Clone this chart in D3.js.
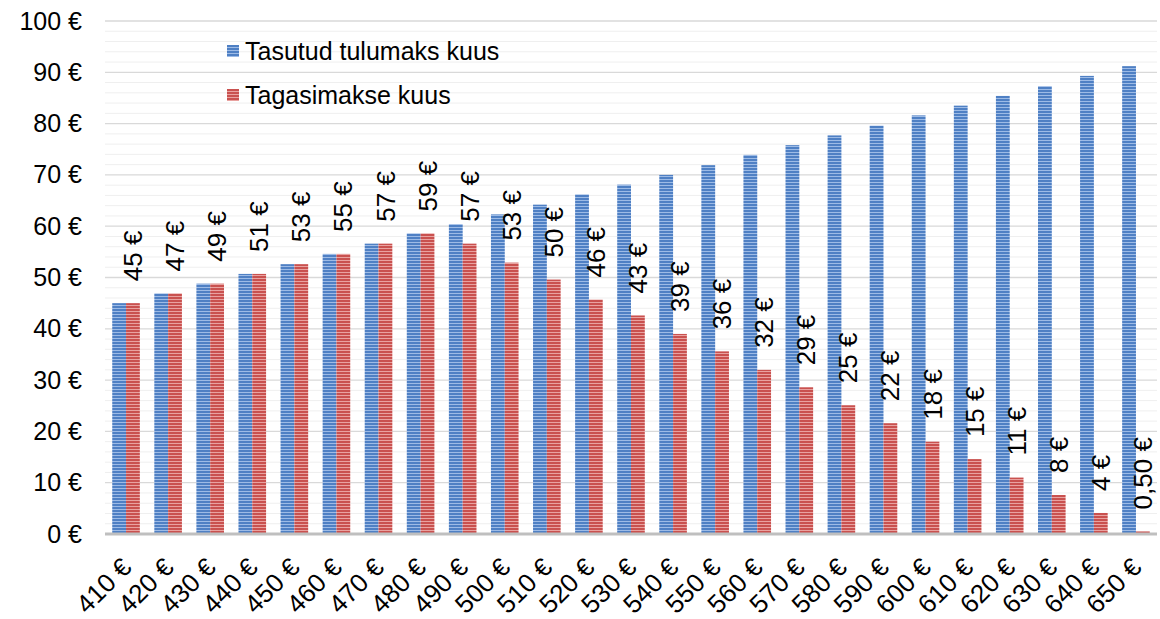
<!DOCTYPE html>
<html>
<head>
<meta charset="utf-8">
<script src="https://cdn.jsdelivr.net/npm/d3@7"></script>
<style>
  body { margin: 0; background: #fff; }
  text { font-family: Arial, "Liberation Sans", sans-serif; fill: #000; }
</style>
</head>
<body>
<div id="chart"></div>
<script>
// incomes (categories)
var incomes = [410, 420, 430, 440, 450, 460, 470, 480, 490, 500, 510, 520, 530,
               540, 550, 560, 570, 580, 590, 600, 610, 620, 630, 640, 650];

var tulumaks = [45.0, 46.9, 48.8, 50.7, 52.6, 54.6, 56.6, 58.6, 60.4, 62.3, 64.2, 66.2, 68.1,
                70.0, 71.9, 73.9, 75.8, 77.7, 79.6, 81.6, 83.5, 85.4, 87.3, 89.3, 91.2];

var tagasimakse = [45.0, 46.9, 48.8, 50.7, 52.6, 54.6, 56.6, 58.6, 56.6, 52.9, 49.6, 45.7, 42.6,
                   39.0, 35.6, 32.0, 28.6, 25.1, 21.6, 18.0, 14.6, 11.0, 7.6, 4.1, 0.5];

var seriesNames = ["Tasutud tulumaks kuus", "Tagasimakse kuus"];
var yTicks = [0, 10, 20, 30, 40, 50, 60, 70, 80, 90, 100];

var width = 1160, height = 619;
var plotLeft = 105, plotRight = 1157, plotTop = 21, plotBottom = 534;

var svg = d3.select("#chart").append("svg")
  .attr("width", width)
  .attr("height", height);

svg.append("rect").attr("width", width).attr("height", height).attr("fill", "#fff");

// striped fills
var defs = svg.append("defs");
function stripes(id, base, light) {
  var p = defs.append("pattern")
    .attr("id", id)
    .attr("patternUnits", "userSpaceOnUse")
    .attr("width", 6).attr("height", 3);
  p.append("rect").attr("width", 6).attr("height", 3).attr("fill", base);
  p.append("rect").attr("y", 2).attr("width", 6).attr("height", 1).attr("fill", light);
}
stripes("blueStripe", "#4f80c4", "#9dbbe6");
stripes("redStripe", "#c9514f", "#e9a2a0");

var x = d3.scaleBand()
  .domain(incomes)
  .range([plotLeft, plotRight])
  .paddingInner(0.344)
  .paddingOuter(0.172);

var x1 = d3.scaleBand()
  .domain([0, 1])
  .range([0, x.bandwidth()]);

var y = d3.scaleLinear().domain([0, 100]).range([plotBottom, plotTop]);

// gridlines
var minor = d3.range(0, 101, 2).filter(function(v) { return v % 10 !== 0; });
svg.append("g").selectAll("line").data(minor).enter().append("line")
  .attr("x1", plotLeft).attr("x2", plotRight)
  .attr("y1", function(d) { return y(d); }).attr("y2", function(d) { return y(d); })
  .attr("stroke", "#efefef").attr("stroke-width", 1);

svg.append("g").selectAll("line").data(yTicks.slice(1)).enter().append("line")
  .attr("x1", plotLeft).attr("x2", plotRight)
  .attr("y1", function(d) { return y(d); }).attr("y2", function(d) { return y(d); })
  .attr("stroke", "#d9d9d9").attr("stroke-width", 1.3);

// y axis labels
var yAxis = d3.axisLeft(y).tickValues(yTicks).tickSize(0).tickPadding(0)
  .tickFormat(function(d) { return d + " €"; });
var gy = svg.append("g").attr("transform", "translate(82,0)").call(yAxis);
gy.select(".domain").remove();
gy.selectAll("text").attr("font-size", 25).attr("fill", "#000")
  .style("font-family", "Arial, 'Liberation Sans', sans-serif");

// bars
var rows = incomes.map(function(inc, i) {
  return { inc: inc, values: [tulumaks[i], tagasimakse[i]] };
});

var groups = svg.append("g").selectAll("g").data(rows).enter().append("g")
  .attr("transform", function(d) { return "translate(" + x(d.inc) + ",0)"; });

groups.selectAll("rect").data(function(d) { return d.values; }).enter().append("rect")
  .attr("x", function(d, i) { return x1(i); })
  .attr("width", x1.bandwidth())
  .attr("y", function(d) { return y(d); })
  .attr("height", function(d) { return y(0) - y(d); })
  .attr("fill", function(d, i) { return i === 0 ? "url(#blueStripe)" : "url(#redStripe)"; });

// data labels (tagasimakse)
function labelText(v) {
  if (v < 1) return d3.format(".2f")(v).replace(".", ",") + " €";
  return Math.round(v) + " €";
}
svg.append("g").selectAll("text").data(rows).enter().append("text")
  .attr("transform", function(d) {
    var cx = x(d.inc) + x1(1) + x1.bandwidth() / 2;
    return "translate(" + cx + "," + (y(d.values[1]) - 22) + ") rotate(-90)";
  })
  .attr("dy", "0.35em")
  .attr("font-size", 26)
  .text(function(d) { return labelText(d.values[1]); });

// baseline
svg.append("line")
  .attr("x1", plotLeft).attr("x2", plotRight)
  .attr("y1", y(0)).attr("y2", y(0))
  .attr("stroke", "#bfbfbf").attr("stroke-width", 3);

// x axis labels
svg.append("g").selectAll("text").data(incomes).enter().append("text")
  .attr("transform", function(d) {
    return "translate(" + (x(d) + x.bandwidth() / 2 + 7) + "," + 569 + ") rotate(-45)";
  })
  .attr("text-anchor", "end")
  .attr("font-size", 26)
  .text(function(d) { return d + " €"; });

// legend
var legend = svg.append("g").selectAll("g").data(seriesNames).enter().append("g")
  .attr("transform", function(d, i) { return "translate(227," + (45 + i * 44) + ")"; });
legend.append("rect")
  .attr("width", 12).attr("height", 12)
  .attr("fill", function(d, i) { return i === 0 ? "url(#blueStripe)" : "url(#redStripe)"; });
legend.append("text")
  .attr("x", 18).attr("y", 15)
  .attr("font-size", 25)
  .text(function(d) { return d; });
</script>
</body>
</html>
